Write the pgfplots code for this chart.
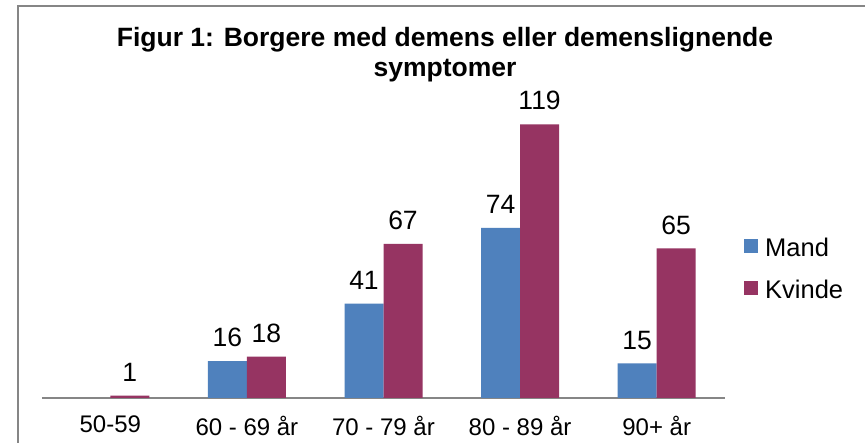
\documentclass[border=0pt]{standalone}
\usepackage{fontspec}
\setmainfont{Liberation Sans}
\usepackage{pgfplots}
\pgfplotsset{compat=1.18}
\definecolor{mand}{HTML}{4F81BD}
\definecolor{kvinde}{HTML}{963462}
\definecolor{framegray}{HTML}{868686}
\begin{document}
\begin{tikzpicture}[x=1pt,y=1pt]
\useasboundingbox (0,0) rectangle (865,443);
\clip (0,0) rectangle (865,443);
\fill[white] (0,0) rectangle (865,443);
\draw[framegray, line width=2pt] (17.5,-20) rectangle (890,436.5);
\node[font=\fontsize{26.5}{30}\selectfont\bfseries, anchor=base, inner sep=0pt] at (445,396.5) {Figur 1: Borgere med demens eller demenslignende};
\node[font=\fontsize{26.5}{30}\selectfont\bfseries, anchor=base, inner sep=0pt] at (445,366) {symptomer};
\begin{axis}[
  at={(42pt,45pt)}, anchor=south west,
  scale only axis, width=683pt, height=322pt,
  xmin=-0.5, xmax=4.5, ymin=0, ymax=140,
  axis x line*=bottom, axis y line=none,
  x axis line style={framegray, line width=1.5pt, -},
  xtick={0,1,2,3,4},
  xticklabels={50-59, 60 - 69 år, 70 - 79 år, 80 - 89 år, 90+ år},
  major tick length=0pt,
  xtick style={draw=none},
  xticklabel style={font=\fontsize{24}{28}\selectfont, anchor=north, inner sep=0pt, yshift=-17.5pt},
  ybar=0pt, bar width=39pt,
  /pgf/number format/assume math mode=true,
  nodes near coords={\pgfmathprintnumber{\pgfplotspointmeta}},
  nodes near coords style={font=\fontsize{26.5}{30}\selectfont, anchor=south, inner sep=0pt, yshift=14pt},
  legend style={draw=none, fill=none, at={(axis description cs:1.0278,0.497)}, anchor=north west,
    inner sep=0pt, nodes={inner sep=0pt},
    font=\fontsize{25.5}{30}\selectfont, row sep=22pt, column sep=7pt, legend cell align=left},
]
\addplot[fill=mand, draw=none, legend image code/.code={\fill[mand] (0pt,-4.5pt) rectangle (14pt,9.5pt);}]
  coordinates {(1,16) (2,41) (3,74) (4,15)};
\addplot[fill=kvinde, draw=none, legend image code/.code={\fill[kvinde] (0pt,-4.5pt) rectangle (14pt,9.5pt);}]
  coordinates {(0,1) (1,18) (2,67) (3,119) (4,65)};
\legend{Mand, Kvinde}
\end{axis}
\end{tikzpicture}
\end{document}
